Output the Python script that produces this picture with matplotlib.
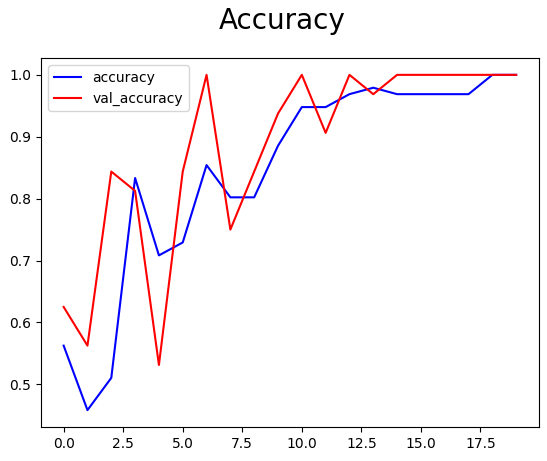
import matplotlib
matplotlib.use("Agg")
import matplotlib.pyplot as plt

epochs = list(range(20))
accuracy = [0.5625, 0.4583, 0.5104, 0.8333, 0.7083, 0.7292, 0.8542, 0.8021, 0.8021, 0.8854,
            0.9479, 0.9479, 0.9688, 0.9792, 0.9688, 0.9688, 0.9688, 0.9688, 1.0, 1.0]
val_accuracy = [0.625, 0.5625, 0.84375, 0.8125, 0.53125, 0.84375, 1.0, 0.75, 0.84375, 0.9375,
                1.0, 0.90625, 1.0, 0.96875, 1.0, 1.0, 1.0, 1.0, 1.0, 1.0]

fig = plt.figure(figsize=(5.47, 4.61), dpi=100)
fig.subplots_adjust(left=0.075, right=0.985, top=0.874, bottom=0.074)
plt.plot(epochs, accuracy, color="blue", label="accuracy")
plt.plot(epochs, val_accuracy, color="red", label="val_accuracy")
fig.suptitle("Accuracy", fontsize=20, x=0.515, y=0.985)
plt.legend(loc="upper left")
plt.savefig("out.png", dpi=100)
